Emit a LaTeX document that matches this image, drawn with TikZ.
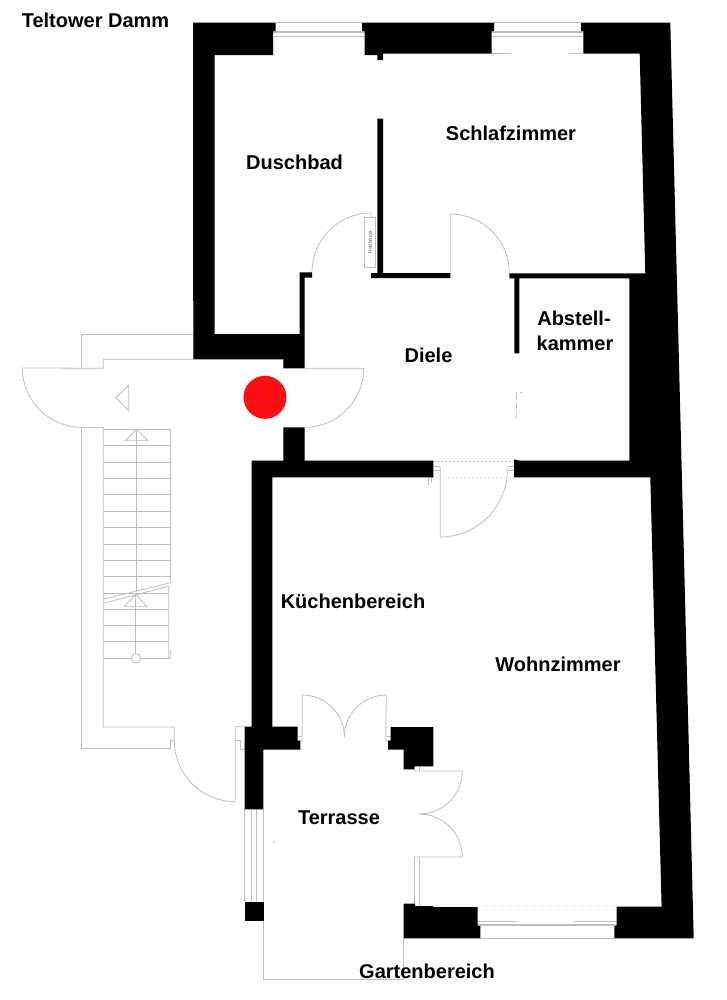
\documentclass[tikz,border=0pt]{standalone}
\usepackage{fontspec}
\setmainfont{Liberation Sans}
\tikzset{
  wall/.style={fill=black,draw=none},
  thin line/.style={draw=linegrey,line width=0.6pt},
  dots/.style={draw=linegrey,line width=0.6pt,dash pattern=on 1pt off 2pt},
  roomlabel/.style={font=\bfseries\fontsize{15}{18}\selectfont,anchor=base,inner sep=0pt,text=black}
}
\definecolor{linegrey}{HTML}{BEBEBE}
\definecolor{marker}{HTML}{FB0F12}
\begin{document}
\begin{tikzpicture}[x=0.75pt,y=-0.75pt]
\useasboundingbox (0,0) rectangle (726,1000);
\fill[white] (0,0) rectangle (726,1000);
% grey lines
\begin{scope}[thin line]
% top windows
\draw (275.7,22.6) -- (362,22.6);
\draw (273,31) -- (364.7,31);
\draw (273,32.2) -- (364.7,32.2);
\draw (273,36.3) -- (364.7,36.3);
\draw (494,22.6) -- (581,22.6);
\draw (491.7,31) -- (583.3,31);
\draw (491.7,32.2) -- (583.3,32.2);
\draw (491.7,36.3) -- (583.3,36.3);
\draw (491.7,53.7) -- (511,53.7);
\draw (569,53.7) -- (583.3,53.7);
% bath door
\draw (312,272) arc[start angle=180,end angle=270,radius=59] -- (371,217);
\draw (364.7,217) rectangle (375.7,267.7);
% bedroom door
\draw (450.3,273) -- (450.3,214) arc[start angle=270,end angle=360,radius=59];
% living door
\draw (440.3,466.7) -- (440.3,537) arc[start angle=90,end angle=0,radius=67] -- (507.3,466.7);
\draw (433.3,466.7) -- (440.3,466.7);
\draw (433.3,470) -- (440.3,470);
\draw (507.3,466.7) -- (514,466.7);
\draw (507.3,470) -- (514,470);
\draw (428.6,477.5) -- (428.6,485);
\draw (431.5,477.5) -- (431.5,483);
\draw[dash pattern=on 5pt off 3pt] (516.7,392) -- (516.7,418);
\draw (520,392.5) -- (522,392.5);
% stairwell landing
\draw (81.7,427.3) arc[start angle=90,end angle=180,radius=59.4] -- (103.3,368.3) -- (103.3,359.3) -- (193.3,359.3);
\draw (81.7,368.3) -- (81.7,334.3) -- (193.3,334.3);
\draw (81.7,427.3) -- (103.3,427.3);
\draw (304.7,368.3) -- (363.7,368.3) arc[start angle=0,end angle=90,radius=59];
\draw (116,397.7) -- (128.7,385.3) -- (128.7,410.7) -- cycle;
% corridor
\draw (81.7,427.3) -- (81.7,748.3) -- (170,748.3) -- (170,740.3) -- (174.3,740.3);
\draw (103.3,427.3) -- (103.3,727) -- (174.3,727) -- (174.3,740.7)
  arc[start angle=180,end angle=90,radius=61] -- (235.3,726.7) -- (244.7,726.7);
\draw (235.3,740.3) -- (240,740.3) -- (240,749) -- (244.7,749);
% stairs
\draw (103.3,429.3) -- (170.3,429.3) -- (170.3,582.7);
\foreach \yy in {445.3,462,478.3,494.7,511,527.3,544,560.3,576.7}
  \draw (103.3,\yy) -- (170.3,\yy);
\foreach \yy in {593,609.3,625.7,641.7,658.3}
  \draw (103.3,\yy) -- (168.7,\yy);
\draw (136.7,429.3) -- (136.7,592);
\draw (135.7,594.3) -- (135.7,653.6);
\draw (136.7,429.3) -- (125.3,440.7) -- (148,440.7) -- cycle;
\draw (135.7,594.3) -- (124.3,606.7) -- (147,606.7) -- cycle;
\draw (103.3,599.3) -- (170.3,582.7);
\draw (103.3,603.3) -- (168.7,586.3) -- (168.7,658.3) -- (170.3,658.3) -- (170.3,650);
\draw[fill=white] (136,658.3) circle[radius=4.7];
% french door top
\draw (297.5,736.7) -- (302.3,736.7);
\draw (297.5,740.7) -- (302.3,740.7) -- (302.3,695) arc[start angle=270,end angle=360,radius=42];
\draw (344.3,737) arc[start angle=180,end angle=270,radius=42] -- (385.7,740.7) -- (390.7,740.7);
\draw (385.7,736.7) -- (390.7,736.7);
% french door right
\draw (414.3,771) -- (462.3,771) arc[start angle=0,end angle=90,radius=43];
\draw (414.3,857) -- (462.3,857) arc[start angle=0,end angle=-90,radius=43];
\draw (414.7,766.3) -- (414.7,771);
\draw (419.3,766.3) -- (419.3,771);
\draw (414.7,857) -- (414.7,906);
\draw (419.3,857) -- (419.3,906);
\draw (419.3,906) -- (433,906);
% terrace
\draw (244.7,809.3) -- (244.7,902);
\draw (251.5,809.3) -- (251.5,902);
\draw (256.3,809.3) -- (256.3,902);
\draw (263.5,809.3) -- (263.5,902);
\draw (263.5,921.3) -- (263.5,979.3) -- (403.7,979.3) -- (403.7,938);
\fill[linegrey] (274,842) circle[radius=0.8];
% bottom window
\draw (403.7,938) -- (693.7,938);
\draw (480.3,925.7) -- (614.3,925.7);
\draw (477.7,924.7) -- (616.7,924.7);
\draw (477.7,921.3) -- (518.3,921.3);
\draw (574,921.3) -- (616.7,921.3);
\end{scope}
\draw[dots] (481,906.7) -- (616,906.7);
\draw[dots] (433.3,461) -- (514,461);
\draw[dots] (428,477.5) -- (514,477.5);
% walls
\fill[wall] (193,22.6) -- (275.7,22.6) -- (275.7,31) -- (273,31) -- (273,55) -- (214.7,55) -- (214.7,334) -- (299.5,334) -- (299.5,272.3) -- (312,272.3) -- (312,277.7) -- (304.7,277.7) -- (304.7,368.3) -- (283.3,368.3) -- (283.3,359.3) -- (193.3,359.3) -- cycle;
\fill[wall] (362,22.6) -- (494,22.6) -- (494,31) -- (491.7,31) -- (491.7,53.7) -- (383,53.7) -- (383,60) -- (377.3,60) -- (377.3,55) -- (364.7,55) -- (364.7,31) -- (362,31) -- cycle;
\fill[wall] (581,22.6) -- (670.3,22.6) -- (693.7,938) -- (614.3,938) -- (614.3,925.7) -- (616.7,925.7) -- (616.7,906.7) -- (661.6,906.7) -- (650.3,477.3) -- (514,477.3) -- (514,459.3) -- (519.3,460.5) -- (629.3,460.5) -- (629.3,278.3) -- (519.3,278.3) -- (519.3,353.3) -- (514.3,353.3) -- (514.3,278.3) -- (509.3,278.3) -- (509.3,273.3) -- (645.3,273.3) -- (639.7,53.7) -- (583.3,53.7) -- (583.3,31) -- (581,31) -- cycle;
\fill[wall] (377.3,118.7) -- (383,118.7) -- (383,273) -- (450.3,273) -- (450.3,278) -- (371,278) -- (371,273) -- (377.3,273) -- cycle;
\fill[wall] (283.3,427.3) -- (304.7,427.3) -- (304.7,460.7) -- (433.3,460.7) -- (433.3,477.3) -- (272.3,477.3) -- (272.3,726.7) -- (297.5,726.7) -- (297.5,740.7) -- (300.3,740.7) -- (300.3,749.7) -- (263.3,749.7) -- (263.3,809.3) -- (244.7,809.3) -- (244.7,726.7) -- (251.7,726.7) -- (251.7,460.7) -- (283.3,460.7) -- cycle;
\fill[wall] (244.7,902) rectangle (263.7,921.3);
\fill[wall] (390.7,727) -- (433.3,727) -- (433.3,766.3) -- (414.3,766.3) -- (414.3,769.3) -- (403.7,769.3) -- (403.7,749.7) -- (388,749.7) -- (388,740.7) -- (390.7,740.7) -- cycle;
\fill[wall] (403.7,903.7) -- (415,903.7) -- (415,906) -- (433,906) -- (433,907) -- (477.7,907) -- (477.7,925.7) -- (480.3,925.7) -- (480.3,938) -- (403.7,938) -- cycle;
% marker
\fill[marker] (265,397.3) circle[radius=21.5];
% labels
\node[roomlabel] (street) at (95.5,27) {Teltower Damm};
\node[roomlabel] (bath) at (294.5,169.3) {Duschbad};
\node[roomlabel] (bed) at (511,140.3) {Schlafzimmer};
\node[roomlabel] (hall) at (428.5,362.4) {Diele};
\node[roomlabel] (store1) at (574,325.7) {Abstell-};
\node[roomlabel] (store2) at (575,350) {kammer};
\node[roomlabel] (kitchen) at (353,608) {Küchenbereich};
\node[roomlabel] (living) at (558,671) {Wohnzimmer};
\node[roomlabel] (terrace) at (339,824) {Terrasse};
\node[roomlabel] (garden) at (427,978.5) {Gartenbereich};
\node[rotate=90,font=\fontsize{3.5}{4}\selectfont,text=black!70,inner sep=0pt] (radiator) at (370.7,242) {Heizkörper};
\end{tikzpicture}
\end{document}
